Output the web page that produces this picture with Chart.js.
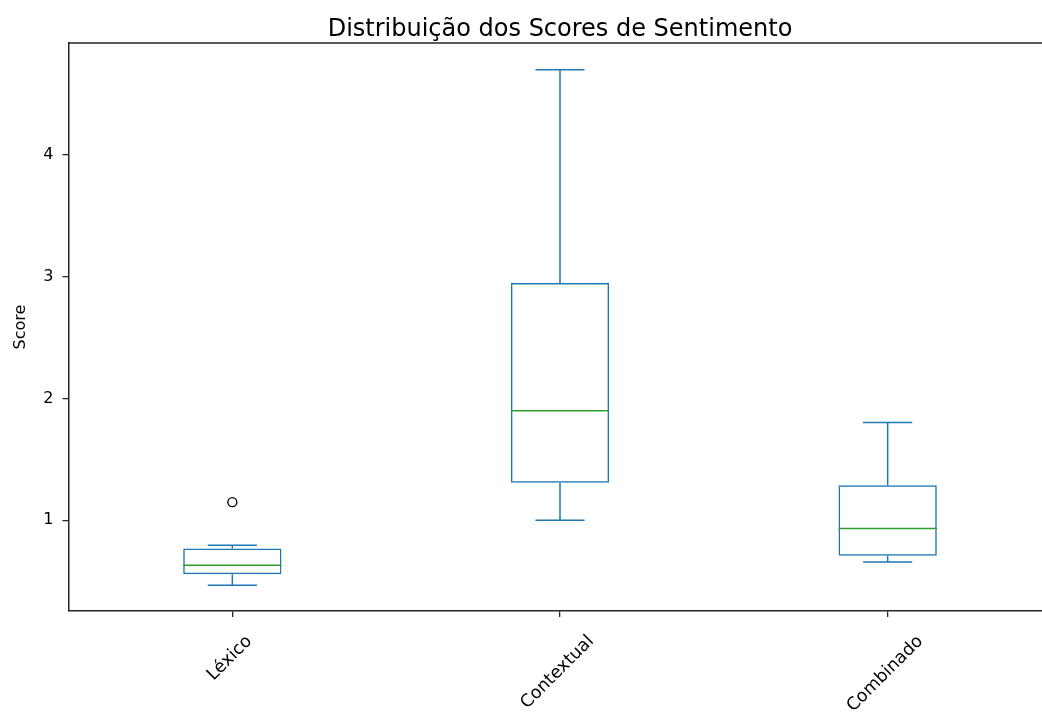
<!DOCTYPE html>
<html>
<head>
<meta charset="utf-8">
<script src="https://cdn.jsdelivr.net/npm/chart.js@4/dist/chart.umd.min.js"></script>
<style>
  html, body { margin: 0; padding: 0; background: #fff; overflow: hidden; }
  #wrap { width: 1060px; height: 713px; }
</style>
</head>
<body>
<div id="wrap"><canvas id="chart" width="1060" height="713"></canvas></div>
<script>
// Sentiment score distribution per method (five-number summaries + outliers)
const categories  = ['Léxico', 'Contextual', 'Combinado'];
const whiskerLow  = [0.466, 1.000, 0.657];
const q1          = [0.556, 1.307, 0.707];
const median      = [0.630, 1.898, 0.932];
const q3          = [0.767, 2.948, 1.288];
const whiskerHigh = [0.795, 4.700, 1.803];
const outlierCategories = ['Léxico'];
const outlierValues     = [1.148];
const yTicks = [1, 2, 3, 4];
const chartTitle = 'Distribuição dos Scores de Sentimento';

const FONT = 'DejaVu Sans';
const BLUE = '#1f77b4';
const GREEN = '#2ca02c';
const SPINE = '#262626';

// Whiskers, caps and medians drawn on top of the box bars
const boxLines = {
  id: 'boxLines',
  afterDatasetsDraw(chart) {
    const { ctx, scales: { x, y } } = chart;
    const meta = chart.getDatasetMeta(0);
    ctx.save();
    ctx.lineWidth = 1.5;
    categories.forEach((c, i) => {
      const bar = meta.data[i];
      const cx = x.getPixelForValue(i);
      const halfBox = bar.width / 2;
      const halfCap = bar.width / 4;
      const yLo = y.getPixelForValue(whiskerLow[i]);
      const yQ1 = y.getPixelForValue(q1[i]);
      const yMed = y.getPixelForValue(median[i]);
      const yQ3 = y.getPixelForValue(q3[i]);
      const yHi = y.getPixelForValue(whiskerHigh[i]);
      ctx.strokeStyle = BLUE;
      ctx.beginPath();
      ctx.moveTo(cx, yQ3); ctx.lineTo(cx, yHi);
      ctx.moveTo(cx, yQ1); ctx.lineTo(cx, yLo);
      ctx.moveTo(cx - halfCap, yHi); ctx.lineTo(cx + halfCap, yHi);
      ctx.moveTo(cx - halfCap, yLo); ctx.lineTo(cx + halfCap, yLo);
      ctx.stroke();
      ctx.strokeStyle = GREEN;
      ctx.beginPath();
      ctx.moveTo(cx - halfBox, yMed); ctx.lineTo(cx + halfBox, yMed);
      ctx.stroke();
    });
    ctx.restore();
  }
};

// Frame lines, title centred over the plot area, and slanted category labels
const frameAndLabels = {
  id: 'frameAndLabels',
  afterDraw(chart) {
    const { ctx, chartArea: a, scales: { x } } = chart;
    ctx.save();
    ctx.strokeStyle = SPINE;
    ctx.lineWidth = 1.5;
    ctx.beginPath();
    ctx.moveTo(a.left, a.top); ctx.lineTo(a.right, a.top); ctx.lineTo(a.right, a.bottom);
    ctx.stroke();

    ctx.fillStyle = '#000';
    ctx.font = '24px "' + FONT + '"';
    ctx.textAlign = 'center';
    ctx.textBaseline = 'alphabetic';
    ctx.fillText(chartTitle, (a.left + a.right) / 2, a.top - 7.5);

    ctx.font = '17.5px "' + FONT + '"';
    ctx.textBaseline = 'middle';
    const top = a.bottom + 22;
    const h = 16;
    categories.forEach((c, i) => {
      const w = ctx.measureText(c).width;
      const cx = x.getPixelForValue(i) - 2.5;
      const cy = top + (w + h) * Math.SQRT1_2 / 2;
      ctx.save();
      ctx.translate(cx, cy);
      ctx.rotate(-Math.PI / 4);
      ctx.fillText(c, 0, 0);
      ctx.restore();
    });
    ctx.restore();
  }
};

new Chart(document.getElementById('chart'), {
  type: 'bar',
  data: {
    labels: categories,
    datasets: [
      {
        label: 'IQR',
        data: categories.map((c, i) => [q1[i], q3[i]]),
        backgroundColor: 'rgba(0,0,0,0)',
        borderColor: BLUE,
        borderWidth: 1.5,
        borderSkipped: false,
        barPercentage: 0.3,
        categoryPercentage: 1,
        grouped: false
      },
      {
        type: 'scatter',
        label: 'Outliers',
        data: outlierCategories.map((c, i) => ({ x: c, y: outlierValues[i] })),
        pointStyle: 'circle',
        pointRadius: 4.5,
        borderColor: '#000',
        backgroundColor: 'rgba(0,0,0,0)',
        borderWidth: 1.4
      }
    ]
  },
  options: {
    responsive: false,
    animation: false,
    devicePixelRatio: 1,
    layout: { padding: { left: 0, right: 8.5, top: 43, bottom: 0 } },
    plugins: {
      legend: { display: false },
      tooltip: { enabled: false },
      title: { display: false }
    },
    scales: {
      x: {
        type: 'category',
        offset: true,
        grid: { display: true, drawOnChartArea: false, drawTicks: true, tickLength: 6, color: SPINE, lineWidth: 1.3, offset: false },
        border: { display: true, color: SPINE, width: 1.5 },
        ticks: { display: false },
        afterFit(s) { s.height = 102; }
      },
      y: {
        type: 'linear',
        min: 0.254,
        max: 4.92,
        afterBuildTicks(s) { s.ticks = yTicks.map(v => ({ value: v })); },
        grid: { display: true, drawOnChartArea: false, drawTicks: true, tickLength: 6, color: SPINE, lineWidth: 1.3 },
        border: { display: true, color: SPINE, width: 1.5 },
        ticks: { color: '#000', font: { family: FONT, size: 16 }, padding: 9 },
        title: { display: true, text: 'Score', color: '#000', font: { family: FONT, size: 16 }, padding: { top: 11.5, bottom: 0 } },
        afterFit(s) { s.width = 68.5; }
      }
    }
  },
  plugins: [boxLines, frameAndLabels]
});
</script>
</body>
</html>
